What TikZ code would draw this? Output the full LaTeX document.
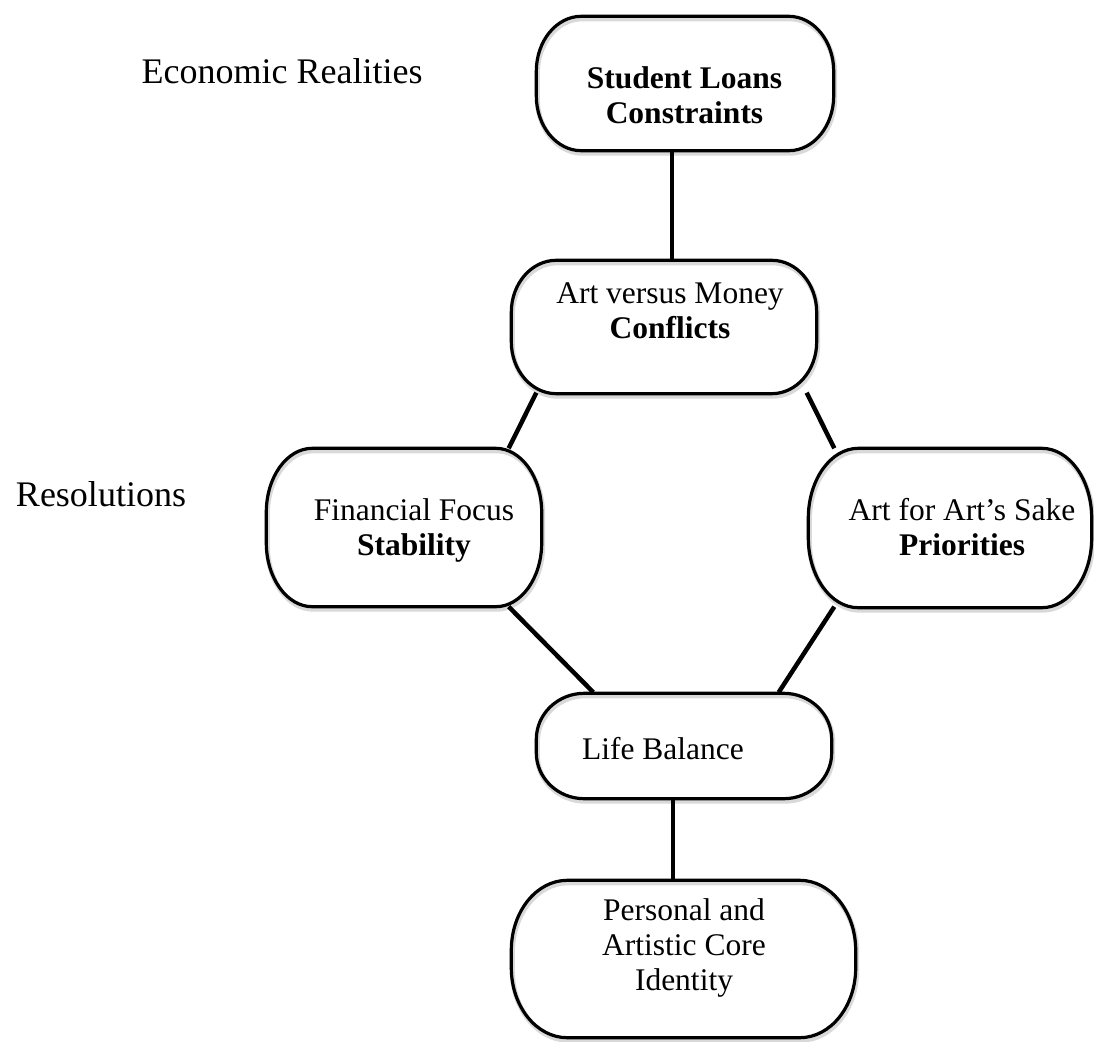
\documentclass[tikz,border=0pt]{standalone}
\usepackage{fontspec}
\setmainfont{Liberation Serif}
\usetikzlibrary{calc}
% outline of a box with elliptical corners: #1 node, #2 x radius, #3 y radius
\newcommand\capsuleoutline[3]{%
  \draw[outline] ($(#1.north west)+(#2,0)$) -- ($(#1.north east)+(-#2,0)$)
    arc[start angle=-90, end angle=0, x radius=#2, y radius=#3]
    -- ($(#1.south east)+(0,-#3)$)
    arc[start angle=0, end angle=90, x radius=#2, y radius=#3]
    -- ($(#1.south west)+(#2,0)$)
    arc[start angle=90, end angle=180, x radius=#2, y radius=#3]
    -- ($(#1.north west)+(0,#3)$)
    arc[start angle=180, end angle=270, x radius=#2, y radius=#3]
    -- cycle;}
\begin{document}
\begin{tikzpicture}[x=1pt,y=-1pt,
  box/.style={rectangle, draw=none, inner sep=0pt},
  outline/.style={draw=black, line width=3.2pt, line join=round,
    preaction={draw=black!15, line width=5pt, transform canvas={xshift=1pt,yshift=-2.5pt}}},
  link/.style={draw=black, line width=4.5pt},
  txt/.style={font=\fontsize{31.5}{35}\selectfont, align=center, anchor=base, inner sep=0pt},
  lbl/.style={font=\fontsize{36}{40}\selectfont, anchor=base, inner sep=0pt}]
\useasboundingbox (0,0) rectangle (1094,1041);

% boxes
\node[box, minimum width=297pt, minimum height=134pt] (loans) at (685,83.5) {};
\node[box, minimum width=305pt, minimum height=133pt] (conf) at (664,327) {};
\node[box, minimum width=275pt, minimum height=158pt] (fin) at (404,527.5) {};
\node[box, minimum width=283pt, minimum height=159pt] (art) at (950,528) {};
\node[box, minimum width=295pt, minimum height=105pt] (life) at (684,746) {};
\node[box, minimum width=344pt, minimum height=157pt] (core) at (683.5,959) {};

\capsuleoutline{loans}{45}{55}
\capsuleoutline{conf}{45}{52}
\capsuleoutline{fin}{46}{64}
\capsuleoutline{art}{50}{70}
\capsuleoutline{life}{48}{46}
\capsuleoutline{core}{56}{70}

% vertical stems
\coordinate (stemA) at (672,0);
\coordinate (stemB) at (673,0);
\draw[link] (loans.south -| stemA) -- (conf.north -| stemA);
\draw[link] (life.south -| stemB) -- (core.north -| stemB);

% diagonal links
\draw[link] ($(conf.south west)+(25,-1)$) -- ($(fin.north east)+(-33,0)$);
\draw[link] ($(conf.south east)+(-10,-1)$) -- ($(art.north west)+(26,0)$);
\draw[link] ($(fin.south east)+(-33,0)$) -- ($(life.north west)+(57,-1)$);
\draw[link] ($(art.south west)+(26,-1)$) -- ($(life.north east)+(-53,-1)$);

% texts (anchored at the baseline of the last line)
\node[lbl] (econ) at (282,83) {Economic Realities};
\node[lbl] (reso) at (101,506) {Resolutions};
\node[txt] (tloans) at (684.5,123) {\textbf{Student Loans}\\\textbf{Constraints}};
\node[txt] (tconf) at (670,338) {Art versus Money\\\textbf{Conflicts}};
\node[txt] (tfin) at (414,555) {Financial Focus\\\textbf{Stability}};
\node[txt] (tart) at (962,555) {Art for Art’s Sake\\\textbf{Priorities}};
\node[txt] (tlife) at (663,759) {Life Balance};
\node[txt] (tcore) at (684,990) {Personal and\\Artistic Core\\Identity};
\end{tikzpicture}
\end{document}
